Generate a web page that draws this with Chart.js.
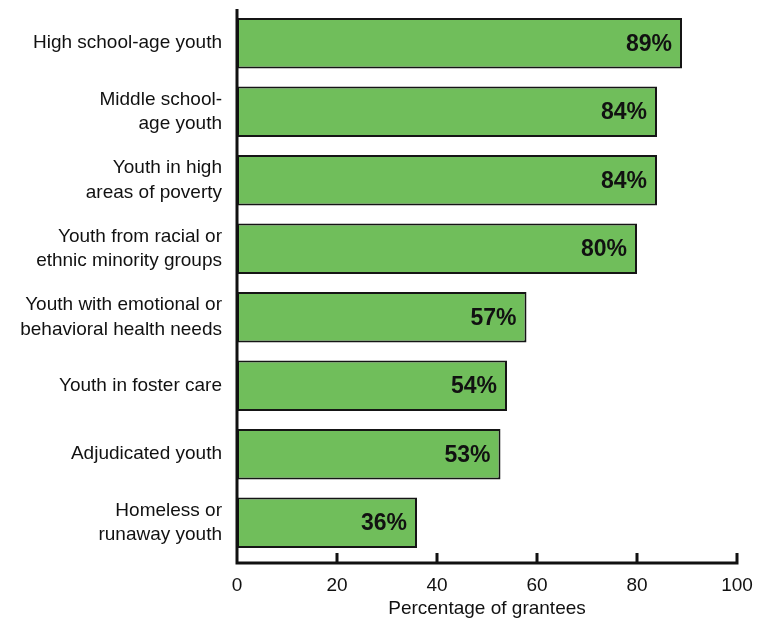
<!DOCTYPE html>
<html>
<head>
<meta charset="utf-8">
<script src="https://cdn.jsdelivr.net/npm/chart.js@4"></script>
<style>
	html, body { margin: 0; padding: 0; background: #fff; overflow: hidden; }
</style>
</head>
<body>
<canvas id="youthBars" width="766" height="618"></canvas>
<script>
var groups = [
	"High school-age youth",
	["Middle school-", "age youth"],
	["Youth in high", "areas of poverty"],
	["Youth from racial or", "ethnic minority groups"],
	["Youth with emotional or", "behavioral health needs"],
	"Youth in foster care",
	"Adjudicated youth",
	["Homeless or", "runaway youth"]
];
var shares = [89, 84, 84, 80, 57.9, 54, 52.7, 36];
var shareLabels = ["89%", "84%", "84%", "80%", "57%", "54%", "53%", "36%"];
var xTicks = [0, 20, 40, 60, 80, 100];

var fontFamily = '"Liberation Sans", Arial, sans-serif';
var ink = '#111';

// axis lines + inward ticks are drawn by hand, the x axis sits a bit below the last bar
var axesAndLabels = {
	id : 'axesAndLabels',
	afterDatasetsDraw : function(chart){
		var ctx = chart.ctx, area = chart.chartArea, x = chart.scales.x;
		var axisY = area.bottom + 6;

		// value labels inside the bars
		ctx.save();
		ctx.fillStyle = ink;
		ctx.font = 'bold 23px ' + fontFamily;
		ctx.textAlign = 'right';
		ctx.textBaseline = 'middle';
		chart.getDatasetMeta(0).data.forEach(function(bar, i){
			ctx.fillText(shareLabels[i], bar.x - 10, bar.y + 1);
		});
		ctx.restore();

		ctx.save();
		ctx.strokeStyle = ink;
		ctx.lineWidth = 3;
		ctx.beginPath();
		ctx.moveTo(area.left, area.top);
		ctx.lineTo(area.left, axisY);
		ctx.moveTo(area.left - 1.5, axisY);
		ctx.lineTo(area.right + 1.5, axisY);
		xTicks.forEach(function(v){
			if (v === 0) return;
			var px = x.getPixelForValue(v);
			ctx.moveTo(px, axisY);
			ctx.lineTo(px, axisY - 10);
		});
		ctx.stroke();
		ctx.restore();
	}
};

var chart = new Chart('youthBars', {
	type : 'bar',
	data : {
		labels : groups,
		datasets : [{
			data : shares,
			backgroundColor : '#70be5b',
			borderColor : '#151515',
			borderWidth : 2,
			borderSkipped : false,
			barPercentage : 0.74,
			categoryPercentage : 1
		}]
	},
	options : {
		indexAxis : 'y',
		responsive : false,
		animation : false,
		layout : { padding : { top : 9, right : 29, left : 0, bottom : 0 } },
		plugins : {
			legend : { display : false },
			tooltip : { enabled : false }
		},
		scales : {
			x : {
				min : 0,
				max : 100,
				afterBuildTicks : function(scale){
					scale.ticks = xTicks.map(function(v){ return { value : v }; });
				},
				afterFit : function(scale){
					scale.height = 61;
					scale.paddingLeft = 0;
					scale.paddingRight = 0;
				},
				grid : { display : false, drawTicks : false },
				border : { display : false },
				ticks : {
					padding : 17,
					color : ink,
					font : { family : fontFamily, size : 19 }
				},
				title : {
					display : true,
					text : 'Percentage of grantees',
					color : ink,
					padding : { top : 0, bottom : -2 },
					font : { family : fontFamily, size : 19 }
				}
			},
			y : {
				afterFit : function(scale){
					scale.width = 237;
					scale.paddingTop = 0;
					scale.paddingBottom = 0;
				},
				grid : { display : false, drawTicks : false },
				border : { display : false },
				ticks : {
					padding : 15,
					color : ink,
					font : { family : fontFamily, size : 19, lineHeight : 1.3 }
				}
			}
		}
	},
	plugins : [axesAndLabels]
});
</script>
</body>
</html>
